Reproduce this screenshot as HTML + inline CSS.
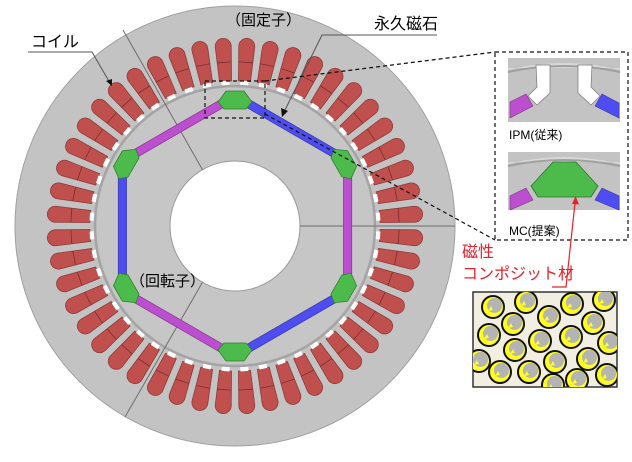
<!DOCTYPE html>
<html><head><meta charset="utf-8"><style>
html,body{margin:0;padding:0;background:#fff;width:632px;height:462px;overflow:hidden}
svg{display:block}
text{font-family:"Liberation Sans","Noto Sans CJK JP",sans-serif}
</style></head><body>
<svg width="632" height="462" viewBox="0 0 632 462" xmlns="http://www.w3.org/2000/svg">
<defs>
<g id="coil">
<path d="M229,81 L227,46 A8,8 0 0 1 243,46 L241,81 Z" fill="#c0504d" stroke="#8e3a38" stroke-width="0.8"/>
<line x1="228" y1="62" x2="242" y2="62" stroke="#7a2e2c" stroke-width="0.8"/>
<rect x="231" y="80.5" width="8" height="4.5" fill="#fff"/>
</g>
<polygon id="pole" points="-9,-7 9,-7 17,4 11,11 -11,11 -17,4" fill="#4cbb4c" stroke="#2f7f2f" stroke-width="0.8"/>
<clipPath id="cb"><rect x="473" y="292" width="144" height="95"/></clipPath>
<g id="pc"><circle r="11" fill="#ffff20" stroke="#111" stroke-width="2"/><circle cx="1.5" cy="-1.5" r="7.5" fill="#b4b4b4"/><path d="M-5,4 l3,-5 l2,4z" fill="#ffff20"/></g>
</defs>
<circle cx="235" cy="226" r="220" fill="#c3c3c3" stroke="#a0a0a0" stroke-width="1"/>
<g>
<use href="#coil" transform="rotate(3.75 235 226)"/><use href="#coil" transform="rotate(11.25 235 226)"/><use href="#coil" transform="rotate(18.75 235 226)"/><use href="#coil" transform="rotate(26.25 235 226)"/><use href="#coil" transform="rotate(33.75 235 226)"/><use href="#coil" transform="rotate(41.25 235 226)"/><use href="#coil" transform="rotate(48.75 235 226)"/><use href="#coil" transform="rotate(56.25 235 226)"/><use href="#coil" transform="rotate(63.75 235 226)"/><use href="#coil" transform="rotate(71.25 235 226)"/><use href="#coil" transform="rotate(78.75 235 226)"/><use href="#coil" transform="rotate(86.25 235 226)"/>
<use href="#coil" transform="rotate(93.75 235 226)"/><use href="#coil" transform="rotate(101.25 235 226)"/><use href="#coil" transform="rotate(108.75 235 226)"/><use href="#coil" transform="rotate(116.25 235 226)"/><use href="#coil" transform="rotate(123.75 235 226)"/><use href="#coil" transform="rotate(131.25 235 226)"/><use href="#coil" transform="rotate(138.75 235 226)"/><use href="#coil" transform="rotate(146.25 235 226)"/><use href="#coil" transform="rotate(153.75 235 226)"/><use href="#coil" transform="rotate(161.25 235 226)"/><use href="#coil" transform="rotate(168.75 235 226)"/><use href="#coil" transform="rotate(176.25 235 226)"/>
<use href="#coil" transform="rotate(183.75 235 226)"/><use href="#coil" transform="rotate(191.25 235 226)"/><use href="#coil" transform="rotate(198.75 235 226)"/><use href="#coil" transform="rotate(206.25 235 226)"/><use href="#coil" transform="rotate(213.75 235 226)"/><use href="#coil" transform="rotate(221.25 235 226)"/><use href="#coil" transform="rotate(228.75 235 226)"/><use href="#coil" transform="rotate(236.25 235 226)"/><use href="#coil" transform="rotate(243.75 235 226)"/><use href="#coil" transform="rotate(251.25 235 226)"/><use href="#coil" transform="rotate(258.75 235 226)"/><use href="#coil" transform="rotate(266.25 235 226)"/>
<use href="#coil" transform="rotate(273.75 235 226)"/><use href="#coil" transform="rotate(281.25 235 226)"/><use href="#coil" transform="rotate(288.75 235 226)"/><use href="#coil" transform="rotate(296.25 235 226)"/><use href="#coil" transform="rotate(303.75 235 226)"/><use href="#coil" transform="rotate(311.25 235 226)"/><use href="#coil" transform="rotate(318.75 235 226)"/><use href="#coil" transform="rotate(326.25 235 226)"/><use href="#coil" transform="rotate(333.75 235 226)"/><use href="#coil" transform="rotate(341.25 235 226)"/><use href="#coil" transform="rotate(348.75 235 226)"/><use href="#coil" transform="rotate(356.25 235 226)"/>
</g>
<circle cx="235" cy="226" r="140" fill="none" stroke="#a4a4a4" stroke-width="2.5"/>
<circle cx="235" cy="226" r="138" fill="#c6c6c6"/>
<circle cx="235" cy="226" r="65" fill="#fff" stroke="#999" stroke-width="1"/>
<g stroke="#6e6e6e" stroke-width="1">
<line x1="300" y1="226" x2="455" y2="226"/>
<line x1="202.5" y1="169.7" x2="123" y2="30"/>
<line x1="202.5" y1="282.3" x2="125" y2="417"/>
</g>
<g stroke-linecap="butt">
<g stroke="#3a3a9a" stroke-width="9">
<line x1="248.9" y1="104" x2="333.7" y2="153"/><line x1="333.7" y1="299" x2="248.9" y2="348"/><line x1="122.4" y1="275" x2="122.4" y2="177"/>
</g>
<g stroke="#4d4df2" stroke-width="7.5">
<line x1="248.9" y1="104" x2="333.7" y2="153"/><line x1="333.7" y1="299" x2="248.9" y2="348"/><line x1="122.4" y1="275" x2="122.4" y2="177"/>
</g>
<g stroke="#8a3a8a" stroke-width="9">
<line x1="347.6" y1="177" x2="347.6" y2="275"/><line x1="221.1" y1="348" x2="136.3" y2="299"/><line x1="136.3" y1="153" x2="221.1" y2="104"/>
</g>
<g stroke="#bb4fcf" stroke-width="7.5">
<line x1="347.6" y1="177" x2="347.6" y2="275"/><line x1="221.1" y1="348" x2="136.3" y2="299"/><line x1="136.3" y1="153" x2="221.1" y2="104"/>
</g>
</g>
<use href="#pole" transform="translate(235 98)"/>
<use href="#pole" transform="translate(346 162) rotate(60)"/>
<use href="#pole" transform="translate(346 290) rotate(120)"/>
<use href="#pole" transform="translate(235 354) rotate(180)"/>
<use href="#pole" transform="translate(124 290) rotate(240)"/>
<use href="#pole" transform="translate(124 162) rotate(300)"/>
<text x="226" y="25" font-size="15">（固定子）</text>
<text x="130" y="286" font-size="15">（回転子）</text>
<text x="374" y="29" font-size="16">永久磁石</text>
<polyline points="437,35 322,35 285,110" fill="none" stroke="#555" stroke-width="1"/>
<polygon points="282,117 281,108 288,111" fill="#111"/>
<text x="31" y="47" font-size="16">コイル</text>
<polyline points="28,52 92,52 110,83" fill="none" stroke="#555" stroke-width="1"/>
<polygon points="112,86 106,81 112,79" fill="#111"/>
<g fill="none" stroke="#111" stroke-width="1.2" stroke-dasharray="4,3">
<rect x="205" y="81" width="60" height="37"/>
<line x1="265" y1="81" x2="495" y2="52"/>
<line x1="265" y1="114" x2="495" y2="240"/>
<rect x="495" y="52" width="133" height="188"/>
</g>
<g>
<rect x="508" y="58" width="112" height="64" fill="#c3c3c3"/>
<path d="M508,70 Q564,56 620,70 L620,68 L508,68Z" fill="#d8d8d8"/>
<path d="M508,72 Q564,60 620,72" fill="none" stroke="#a0a0a0" stroke-width="2"/>
<path d="M536,65 L550,65 L550,93 L537,105 L528,96 L537,87Z" fill="#fff" stroke="#777" stroke-width="0.7"/>
<path d="M578,65 L592,65 L591,87 L600,96 L591,105 L578,93Z" fill="#fff" stroke="#777" stroke-width="0.7"/>
<polygon points="510,102 526,94 533,106 510,118" fill="#bb4fcf" stroke="#7a3a7a" stroke-width="0.6"/>
<polygon points="602,94 619,103 619,118 595,106" fill="#4d4df2" stroke="#3a3a9a" stroke-width="0.6"/>
</g>
<text x="509" y="139" font-size="12">IPM(従来)</text>
<g>
<rect x="508" y="152" width="112" height="58" fill="#c3c3c3"/>
<path d="M508,164 Q564,150 620,164 L620,162 L508,162Z" fill="#d8d8d8"/>
<path d="M508,166 Q564,154 620,166" fill="none" stroke="#a0a0a0" stroke-width="2"/>
<polygon points="553,162 576,162 598,186 591,197 538,197 531,186" fill="#4cbb4c" stroke="#2f6f2f" stroke-width="0.8"/>
<polygon points="510,196 526,188 533,200 510,210" fill="#bb4fcf" stroke="#7a3a7a" stroke-width="0.6"/>
<polygon points="602,188 619,196 619,210 595,200" fill="#4d4df2" stroke="#3a3a9a" stroke-width="0.6"/>
</g>
<text x="509" y="235" font-size="12">MC(提案)</text>
<text x="462" y="257" font-size="16" fill="#e8202a">磁性</text>
<text x="462" y="279" font-size="16" fill="#e8202a">コンポジット材</text>
<polyline points="552,287 566,287 575,203" fill="none" stroke="#e8202a" stroke-width="1.2"/>
<polygon points="575.6,196 572,204 579,204.5" fill="#e8202a"/>
<rect x="473" y="292" width="144" height="95" fill="#f2eee2" stroke="#333" stroke-width="1.5"/>
<g clip-path="url(#cb)">
<use href="#pc" x="493" y="307"/><use href="#pc" x="526" y="302"/><use href="#pc" x="572" y="304"/><use href="#pc" x="604" y="300"/>
<use href="#pc" x="513" y="324"/><use href="#pc" x="549" y="317"/><use href="#pc" x="593" y="323"/><use href="#pc" x="489" y="335"/>
<use href="#pc" x="540" y="341"/><use href="#pc" x="571" y="337"/><use href="#pc" x="609" y="343"/><use href="#pc" x="515" y="350"/>
<use href="#pc" x="555" y="362"/><use href="#pc" x="588" y="359"/><use href="#pc" x="479" y="361"/><use href="#pc" x="500" y="372"/>
<use href="#pc" x="529" y="372"/><use href="#pc" x="577" y="380"/><use href="#pc" x="607" y="375"/><use href="#pc" x="553" y="385"/>
</g>
</svg>
</body></html>
